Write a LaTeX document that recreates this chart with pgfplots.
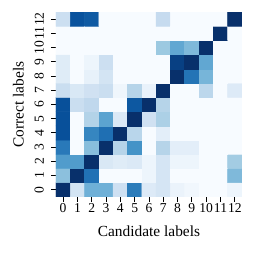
\documentclass[border=0pt]{standalone}
\usepackage{fontspec}
\setmainfont{Liberation Serif}
\usepackage{pgfplots}
\pgfplotsset{compat=1.18}
\pgfplotsset{colormap={blues}{rgb255=(247,251,255) rgb255=(222,235,247) rgb255=(198,219,239) rgb255=(158,202,225) rgb255=(107,174,214) rgb255=(66,146,198) rgb255=(33,113,181) rgb255=(8,81,156) rgb255=(8,48,107)}}
\begin{document}
\begin{tikzpicture}
\begin{axis}[
  name=ax,
  scale only axis, width=132.9pt, height=132.1pt,
  colormap name=blues, point meta min=0, point meta max=1,
  xmin=-0.5, xmax=12.5, ymin=-0.5, ymax=12.5,
  xtick={0,...,12}, ytick={0,...,12},
  xtick pos=bottom, ytick pos=left, tick align=outside,
  major tick length=3.5pt, tick style={black, line width=0.6pt},
  axis line style={draw=none},
  ticklabel style={font=\fontsize{9.7}{11}\selectfont, inner sep=0pt},
  xticklabel style={anchor=north, yshift=-1pt},
  yticklabel style={xshift=-5pt, rotate=90, anchor=south},
  /pgf/number format/assume math mode=true,
  xlabel={Candidate labels}, ylabel={Correct labels},
  label style={font=\fontsize{11}{13}\selectfont, inner sep=0pt},
  xlabel style={at={(axis description cs:0.5,-0.1558)}, anchor=north},
  ylabel style={at={(axis description cs:-0.2333,0.5)}, rotate=0, anchor=north},
]
\addplot[matrix plot*, mesh/cols=13, point meta=explicit] table[meta=z] {
x y z
0 0 1.0
1 0 0.18
2 0 0.49
3 0 0.49
4 0 0.21
5 0 0.71
6 0 0.13
7 0 0.17
8 0 0.06
9 0 0.03
10 0 0
11 0 0
12 0 0.05
0 1 0.42
1 1 1.0
2 1 0.75
3 1 0
4 1 0
5 1 0
6 1 0.05
7 1 0.17
8 1 0
9 1 0
10 1 0
11 1 0
12 1 0.45
0 2 0.58
1 2 0.58
2 2 1.0
3 2 0.15
4 2 0.12
5 2 0.14
6 2 0.05
7 2 0.17
8 2 0.05
9 2 0.05
10 2 0
11 2 0
12 2 0.36
0 3 0.72
1 3 0
2 3 0.43
3 3 1.0
4 3 0.3
5 3 0.62
6 3 0
7 3 0.3
8 3 0.1
9 3 0.1
10 3 0
11 3 0
12 3 0
0 4 0.88
1 4 0
2 4 0.67
3 4 0.76
4 4 1.0
5 4 0.29
6 4 0
7 4 0.1
8 4 0
9 4 0
10 4 0
11 4 0
12 4 0
0 5 0.88
1 5 0
2 5 0.31
3 5 0.55
4 5 0.14
5 5 1.0
6 5 0.2
7 5 0.33
8 5 0
9 5 0
10 5 0
11 5 0
12 5 0
0 6 0.88
1 6 0.23
2 6 0.27
3 6 0
4 6 0
5 6 0.85
6 6 1.0
7 6 0.3
8 6 0
9 6 0
10 6 0
11 6 0
12 6 0
0 7 0.23
1 7 0.15
2 7 0.2
3 7 0.23
4 7 0.04
5 7 0.3
6 7 0.07
7 7 1.0
8 7 0
9 7 0
10 7 0.28
11 7 0
12 7 0.13
0 8 0.12
1 8 0
2 8 0.08
3 8 0.18
4 8 0
5 8 0
6 8 0
7 8 0
8 8 1.0
9 8 0.74
10 8 0.47
11 8 0
12 8 0
0 9 0.12
1 9 0
2 9 0.05
3 9 0.22
4 9 0
5 9 0
6 9 0
7 9 0
8 9 0.94
9 9 1.0
10 9 0.53
11 9 0
12 9 0
0 10 0
1 10 0
2 10 0
3 10 0
4 10 0
5 10 0
6 10 0
7 10 0.38
8 10 0.53
9 10 0.45
10 10 1.0
11 10 0
12 10 0
0 11 0
1 11 0
2 11 0
3 11 0
4 11 0
5 11 0
6 11 0
7 11 0
8 11 0
9 11 0
10 11 0
11 11 1.0
12 11 0
0 12 0.22
1 12 0.87
2 12 0.84
3 12 0
4 12 0
5 12 0
6 12 0
7 12 0.25
8 12 0
9 12 0
10 12 0
11 12 0
12 12 1.0
};
\end{axis}
\pgfresetboundingbox
\path[use as bounding box] ([shift={(-40pt,-40pt)}]ax.south west) rectangle ([shift={(8.6pt,8.6pt)}]ax.north east);
\end{tikzpicture}
\end{document}
